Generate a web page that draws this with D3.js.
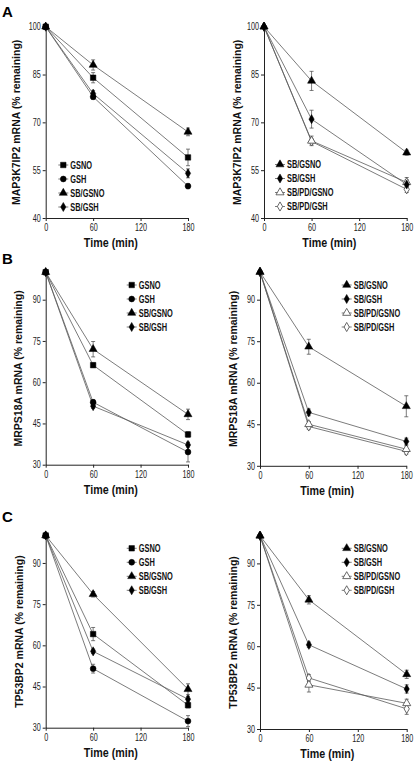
<!DOCTYPE html>
<html>
<head>
<meta charset="utf-8">
<script src="https://cdn.jsdelivr.net/npm/d3@7"></script>
<style>
  html, body { margin: 0; padding: 0; background: #fff; }
  svg { display: block; }
  .tick text { font-family: "Liberation Sans", Arial, sans-serif; font-size: 10px; fill: #222; }
</style>
</head>
<body>
<svg id="chart" width="416" height="764"></svg>
<script>
// ---------------- DATA ----------------
const times = [0, 60, 180];
const xTicks = [0, 60, 120, 180];
const yTicksA = [40, 55, 70, 85, 100];
const yTicksBC = [30, 45, 60, 75, 90];
const panelLetters = ["A", "B", "C"];
const geneLabels = ["MAP3K7IP2 mRNA (% remaining)", "MRPS18A mRNA (% remaining)", "TP53BP2 mRNA (% remaining)"];
const xTitle = "Time (min)";

const seriesLeft = ["GSNO", "GSH", "SB/GSNO", "SB/GSH"];
const seriesRight = ["SB/GSNO", "SB/GSH", "SB/PD/GSNO", "SB/PD/GSH"];

// Panel A (MAP3K7IP2)
const valuesALeft  = [[100, 84, 59], [100, 78, 50], [100, 88, 67], [100, 79, 54]];
const errorsALeft  = [[0, 1.6, 2.6], [0, 0.8, 0.8], [0, 1.6, 1.2], [0, 1.0, 1.4]];
const valuesARight = [[100, 83, 60.5], [100, 71, 50.5], [100, 64.2, 51.2], [100, 64, 49]];
const errorsARight = [[0, 3.0, 0.8], [0, 2.8, 1.5], [0, 1.5, 1.5], [0, 0.8, 1.0]];
// Panel B (MRPS18A)
const valuesBLeft  = [[100, 66.2, 41], [100, 52.7, 34.6], [100, 72, 48.3], [100, 51.3, 37.2]];
const errorsBLeft  = [[0, 0.8, 1.0], [0, 1.0, 3.6], [0, 2.8, 1.9], [0, 0.8, 0.8]];
const valuesBRight = [[100, 73, 51.5], [100, 49.3, 38.8], [100, 45, 36], [100, 44.2, 35.2]];
const errorsBRight = [[0, 2.7, 3.8], [0, 1.2, 1.2], [0, 1.0, 1.2], [0, 1.0, 1.0]];
// Panel C (TP53BP2)
const valuesCLeft  = [[100, 64.1, 38.2], [100, 51.5, 32.4], [100, 78.6, 44], [100, 57.8, 40.4]];
const errorsCLeft  = [[0, 2.4, 1.0], [0, 1.6, 2.0], [0, 1.0, 2.0], [0, 0.8, 1.0]];
const valuesCRight = [[100, 76.8, 49.8], [100, 60.5, 44.5], [100, 46, 39.3], [100, 48.5, 37.3]];
const errorsCRight = [[0, 1.5, 1.5], [0, 1.0, 1.5], [0, 2.6, 1.5], [0, 1.2, 2.0]];

// ---------------- LAYOUT ----------------
const panels = [
  { row: 0, names: seriesLeft,  values: valuesALeft,  errors: errorsALeft,  yTicks: yTicksA,  yMin: 40,
    x0: 45.7, x1: 188, yTop: 26.7, yBot: 218, labelX: 15.7, legX: 63.3, legY: 165 },
  { row: 0, names: seriesRight, values: valuesARight, errors: errorsARight, yTicks: yTicksA,  yMin: 40,
    x0: 264, x1: 406.7, yTop: 26.7, yBot: 218, labelX: 237, legX: 280, legY: 164.5 },
  { row: 1, names: seriesLeft,  values: valuesBLeft,  errors: errorsBLeft,  yTicks: yTicksBC, yMin: 30,
    x0: 45.7, x1: 188, yTop: 272.2, yBot: 464.7, labelX: 18, legX: 131.7, legY: 285 },
  { row: 1, names: seriesRight, values: valuesBRight, errors: errorsBRight, yTicks: yTicksBC, yMin: 30,
    x0: 260, x1: 406.3, yTop: 272.0, yBot: 465.8, labelX: 233, legX: 346.7, legY: 285 },
  { row: 2, names: seriesLeft,  values: valuesCLeft,  errors: errorsCLeft,  yTicks: yTicksBC, yMin: 30,
    x0: 45.7, x1: 188, yTop: 535.5, yBot: 727.7, labelX: 19, legX: 131.7, legY: 548.3 },
  { row: 2, names: seriesRight, values: valuesCRight, errors: errorsCRight, yTicks: yTicksBC, yMin: 30,
    x0: 260, x1: 406.7, yTop: 535.8, yBot: 729, labelX: 233, legX: 346.7, legY: 548.3 }
];
const letterPos = [{ x: 2, y: 17 }, { x: 2, y: 263.5 }, { x: 2, y: 522 }];

const markerStyle = {
  "GSNO":       { type: d3.symbolSquare,   size: 30, fill: "#000" },
  "GSH":        { type: d3.symbolCircle,   size: 27, fill: "#000" },
  "SB/GSNO":    { type: d3.symbolTriangle, size: 28, fill: "#000" },
  "SB/GSH":     { type: d3.symbolDiamond,  size: 24, fill: "#000" },
  "SB/PD/GSNO": { type: d3.symbolTriangle, size: 28, fill: "#fff" },
  "SB/PD/GSH":  { type: d3.symbolDiamond,  size: 24, fill: "#fff" }
};
const lineColor = "#5a5a5a";
const axisColor = "#222";
const fontFam = "Liberation Sans, Arial, sans-serif";

// compress a text horizontally to mimic a narrow typeface
function narrow(sel, factor) {
  sel.each(function () {
    const w = this.getComputedTextLength();
    d3.select(this).attr("textLength", w * factor).attr("lengthAdjust", "spacingAndGlyphs");
  });
}

const svg = d3.select("#chart");

letterPos.forEach((p, i) => {
  svg.append("text").attr("x", p.x).attr("y", p.y)
    .attr("font-family", fontFam)
    .attr("font-weight", "bold").attr("font-size", 15)
    .text(panelLetters[i]);
});

function marker(g, name, x, y) {
  const m = markerStyle[name];
  g.append("path")
    .attr("d", d3.symbol().type(m.type).size(m.size)())
    .attr("transform", `translate(${x},${y})`)
    .attr("fill", m.fill)
    .attr("stroke", m.fill === "#fff" ? "#444" : "#000")
    .attr("stroke-width", m.fill === "#fff" ? 0.8 : 0.5);
}

panels.forEach(p => {
  const x = d3.scaleLinear().domain([0, 180]).range([p.x0, p.x1]);
  const y = d3.scaleLinear().domain([p.yMin, 100]).range([p.yBot, p.yTop]);
  const g = svg.append("g");

  // axes
  const yAxis = d3.axisLeft(y).tickValues(p.yTicks).tickSize(3).tickSizeOuter(0).tickPadding(2);
  const gy = g.append("g").attr("transform", `translate(${p.x0},0)`).call(yAxis);
  const xAxis = d3.axisBottom(x).tickValues(xTicks).tickSize(3).tickSizeOuter(0).tickPadding(3);
  const gx = g.append("g").attr("transform", `translate(0,${p.yBot})`).call(xAxis);
  [gx, gy].forEach(a => {
    a.select(".domain").attr("stroke", axisColor).attr("stroke-width", 1);
    a.selectAll(".tick line").attr("stroke", axisColor);
    narrow(a.selectAll(".tick text"), 0.72);
  });

  // y label
  g.append("text")
    .attr("transform", `translate(${p.labelX},${(p.yTop + p.yBot) / 2}) rotate(-90)`)
    .attr("text-anchor", "middle").attr("dominant-baseline", "central")
    .attr("font-family", fontFam)
    .attr("font-weight", "bold").attr("font-size", 10.5).attr("fill", "#111")
    .text(geneLabels[p.row]);

  // x title
  g.append("text")
    .attr("x", (p.x0 + p.x1) / 2 - 6).attr("y", p.yBot + 29)
    .attr("text-anchor", "middle")
    .attr("font-family", fontFam)
    .attr("font-weight", "bold").attr("font-size", 13).attr("fill", "#111")
    .attr("textLength", 54).attr("lengthAdjust", "spacingAndGlyphs")
    .text(xTitle);

  // lines, error bars, markers (draw last series first so filled markers end on top)
  const line = d3.line().x((d, i) => x(times[i])).y(d => y(d));
  const order = d3.range(p.names.length).reverse();
  order.forEach(si => {
    g.append("path").datum(p.values[si])
      .attr("d", line).attr("fill", "none")
      .attr("stroke", lineColor).attr("stroke-width", 0.8);
  });
  order.forEach(si => {
    p.values[si].forEach((v, i) => {
      const e = p.errors[si][i];
      if (e > 0) {
        const cx = x(times[i]);
        g.append("line").attr("x1", cx).attr("x2", cx)
          .attr("y1", y(v - e)).attr("y2", y(v + e))
          .attr("stroke", "#444").attr("stroke-width", 0.7);
        [v - e, v + e].forEach(ev => {
          g.append("line").attr("x1", cx - 2).attr("x2", cx + 2)
            .attr("y1", y(ev)).attr("y2", y(ev))
            .attr("stroke", "#444").attr("stroke-width", 0.7);
        });
      }
    });
  });
  order.forEach(si => {
    p.values[si].forEach((v, i) => marker(g, p.names[si], x(times[i]), y(v)));
  });

  // legend
  p.names.forEach((name, i) => {
    const ly = p.legY + i * 14;
    g.append("line").attr("x1", p.legX - 5).attr("x2", p.legX + 5)
      .attr("y1", ly).attr("y2", ly).attr("stroke", lineColor).attr("stroke-width", 0.8);
    marker(g, name, p.legX, ly);
    const t = g.append("text").attr("x", p.legX + 7).attr("y", ly)
      .attr("dominant-baseline", "central")
      .attr("font-family", fontFam)
      .attr("font-weight", "bold").attr("font-size", 10).attr("fill", "#111")
      .text(name);
    narrow(t, 0.74);
  });
});
</script>
</body>
</html>
